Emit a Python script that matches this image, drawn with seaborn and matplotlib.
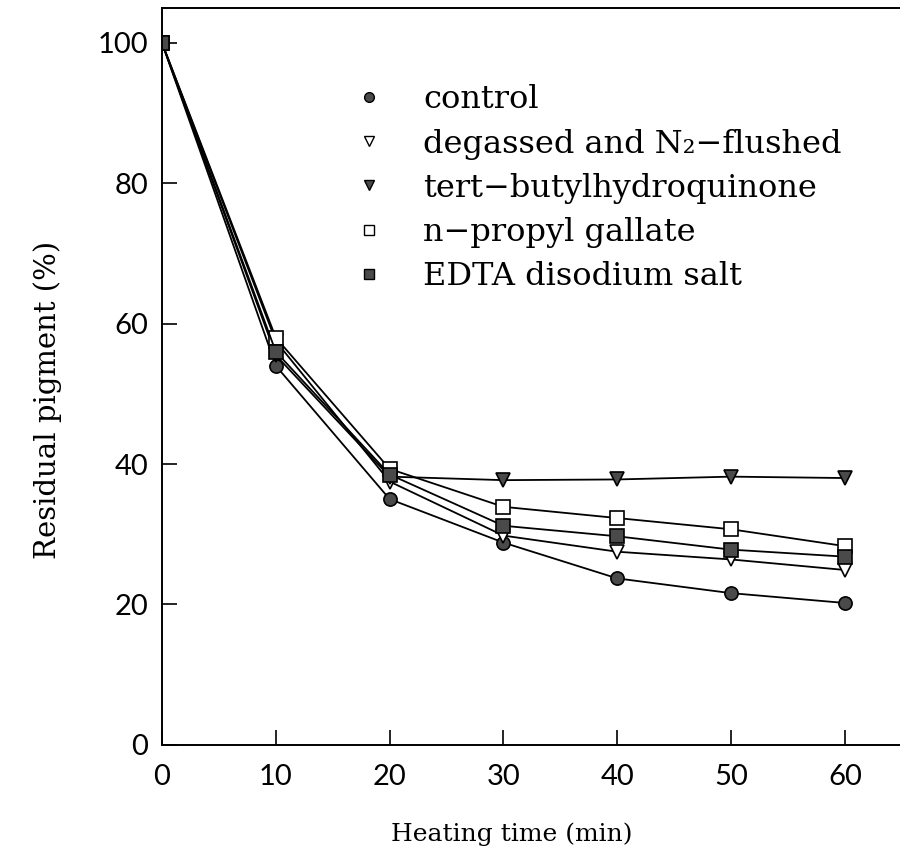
import matplotlib
matplotlib.use("Agg")
import matplotlib.pyplot as plt
from matplotlib.lines import Line2D
import pandas as pd
import seaborn as sns

# heating time (min)
times = [0, 10, 20, 30, 40, 50, 60]

# residual pigment (%)
control = [100, 54.0, 35.0, 28.8, 23.7, 21.6, 20.2]
degassed = [100, 57.5, 37.5, 29.8, 27.5, 26.4, 24.9]
tbhq = [100, 55.5, 38.2, 37.7, 37.8, 38.2, 38.0]
propyl_gallate = [100, 58.0, 39.3, 33.9, 32.3, 30.7, 28.3]
edta = [100, 56.0, 38.5, 31.2, 29.7, 27.8, 26.8]

labels = [
    "control",
    "degassed and N\u2082\u2212flushed",
    "tert\u2212butylhydroquinone",
    "n\u2212propyl gallate",
    "EDTA disodium salt",
]
series = [control, degassed, tbhq, propyl_gallate, edta]

# marker, face colour for each series
styles = [
    ("o", "#4a4a4a"),
    ("v", "white"),
    ("v", "#4a4a4a"),
    ("s", "white"),
    ("s", "#4a4a4a"),
]

sns.set_theme(style="ticks")
plt.rcParams["font.family"] = ["DejaVu Serif"]
plt.rcParams["text.color"] = "black"
plt.rcParams["axes.labelcolor"] = "black"

fig = plt.figure(figsize=(9.0, 8.68), dpi=100)
ax = fig.add_axes([0.18, 0.142, 0.822, 0.849])

handles = []
for lab, vals, (mk, fc) in zip(labels, series, styles):
    df = pd.DataFrame({"time": times, "pigment": vals})
    sns.lineplot(data=df, x="time", y="pigment", ax=ax, color="black",
                 linewidth=1.3, marker=mk, markersize=9.5,
                 markerfacecolor=fc, markeredgecolor="black",
                 markeredgewidth=1.2, legend=False)
    handles.append(Line2D([], [], linestyle="none", marker=mk, markersize=7,
                          markerfacecolor=fc, markeredgecolor="black",
                          markeredgewidth=1.0))

ax.set_xlim(0, 65)
ax.set_ylim(0, 105)
ax.set_xticks([0, 10, 20, 30, 40, 50, 60])
ax.set_yticks([0, 20, 40, 60, 80, 100])
ax.tick_params(direction="in", length=11, width=1.2, pad=14,
               colors="black", labelcolor="black")
ax.tick_params(axis="y", pad=10)
for t in ax.get_xticklabels() + ax.get_yticklabels():
    t.set_family("Lato")
    t.set_fontsize(21)
for s in ax.spines.values():
    s.set_linewidth(1.4)
    s.set_color("black")
    s.set_visible(True)

ax.set_xlabel("Heating time (min)", fontsize=18)
ax.set_ylabel("Residual pigment (%)", fontsize=21)
ax.xaxis.set_label_coords(0.473, -0.106)
ax.yaxis.set_label_coords(-0.135, 0.468)

ax.legend(handles, labels, loc="upper left", bbox_to_anchor=(0.219, 0.935),
          frameon=False, fontsize=23, handlelength=1.0, handletextpad=1.2,
          labelspacing=0.41)

fig.savefig("out.png", dpi=100)
